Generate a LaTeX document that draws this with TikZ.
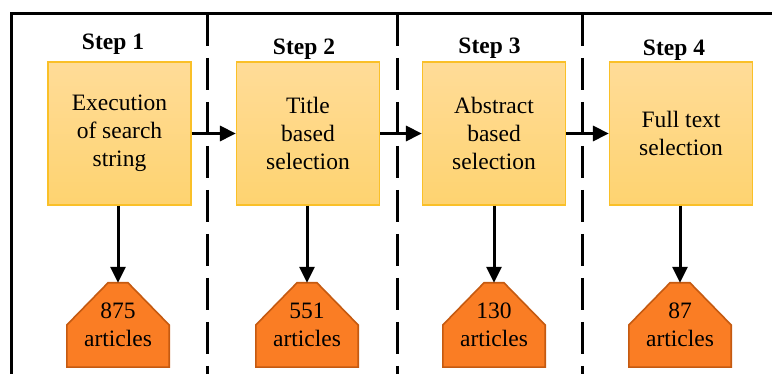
\documentclass[tikz,border=0pt]{standalone}
\usepackage{fontspec}
\setmainfont{LiberationSerif}[Extension=.ttf, UprightFont=*-Regular, BoldFont=*-Bold]
\usetikzlibrary{arrows.meta,backgrounds}
\definecolor{boxtop}{RGB}{255,220,152}
\definecolor{boxbot}{RGB}{254,211,112}
\definecolor{boxline}{RGB}{250,192,40}
\definecolor{housefill}{RGB}{250,125,36}
\definecolor{houseline}{RGB}{197,90,17}
\begin{document}
\begin{tikzpicture}[x=1pt,y=-1pt,
  font=\rmfamily\fontsize{23.5}{28}\selectfont,
  stepbox/.style={rectangle, draw=boxline, line width=1.2pt, top color=boxtop,
    bottom color=boxbot, minimum width=143pt, minimum height=143pt,
    align=center, inner sep=0pt},
  steptitle/.style={anchor=base, font=\rmfamily\fontsize{23.5}{28}\selectfont\bfseries},
  countbox/.style={rectangle, minimum width=102pt, minimum height=84pt,
    align=center, inner sep=0pt},
  house/.style={fill=housefill, draw=houseline, line width=1.6pt, line join=miter},
  flow/.style={line width=3pt, -{Triangle[length=16pt,width=15pt]}},
  divider/.style={line width=3pt, dash pattern=on 32pt off 12pt},
]
\useasboundingbox (0,0) rectangle (772,374);
\clip (0,0) rectangle (772,374);

% outer frame (runs off the page to the right and bottom)
\draw[line width=3pt] (11.5,420) -- (11.5,14) -- (820,14);

% column dividers
\foreach \xd/\nm in {207.5/d1, 397/d2, 582/d3}{
  \coordinate (\nm top) at (\xd,14);
  \coordinate (\nm bot) at (\xd,420);
  \draw[divider] (\nm top) -- (\nm bot);
}

% step titles
\node[steptitle] (t1) at (113,50)   {Step 1};
\node[steptitle] (t2) at (304,55)   {Step 2};
\node[steptitle] (t3) at (489.5,54) {Step 3};
\node[steptitle] (t4) at (674,56)   {Step 4};

% selection steps
\node[stepbox] (b1) at (119.5,133.5) {Execution\\of search\\string};
\node[stepbox] (b2) at (308,133.5)   {Title\\based\\selection};
\node[stepbox] (b3) at (494,133.5)   {Abstract\\based\\selection};
\node[stepbox] (b4) at (681,133.5)   {Full text\\selection};

% article counts
\node[countbox] (c1) at (118,325) {875\\articles};
\node[countbox] (c2) at (307,325) {551\\articles};
\node[countbox] (c3) at (494,325) {130\\articles};
\node[countbox] (c4) at (680,325) {87\\articles};

\begin{scope}[on background layer]
  \foreach \c in {c1,c2,c3,c4}{
    \draw[house] (\c.south west) -- (\c.west) -- ([xshift=-10pt]\c.north)
      -- ([xshift=10pt]\c.north) -- (\c.east) -- (\c.south east) -- cycle;
  }
\end{scope}

% connectors
\draw[flow] (b1.east) -- (b2.west);
\draw[flow] (b2.east) -- (b3.west);
\draw[flow] (b3.east) -- (b4.west);
\foreach \i in {1,2,3,4}{
  \draw[flow] (b\i.south -| c\i.north) -- (c\i.north);
}
\end{tikzpicture}
\end{document}
